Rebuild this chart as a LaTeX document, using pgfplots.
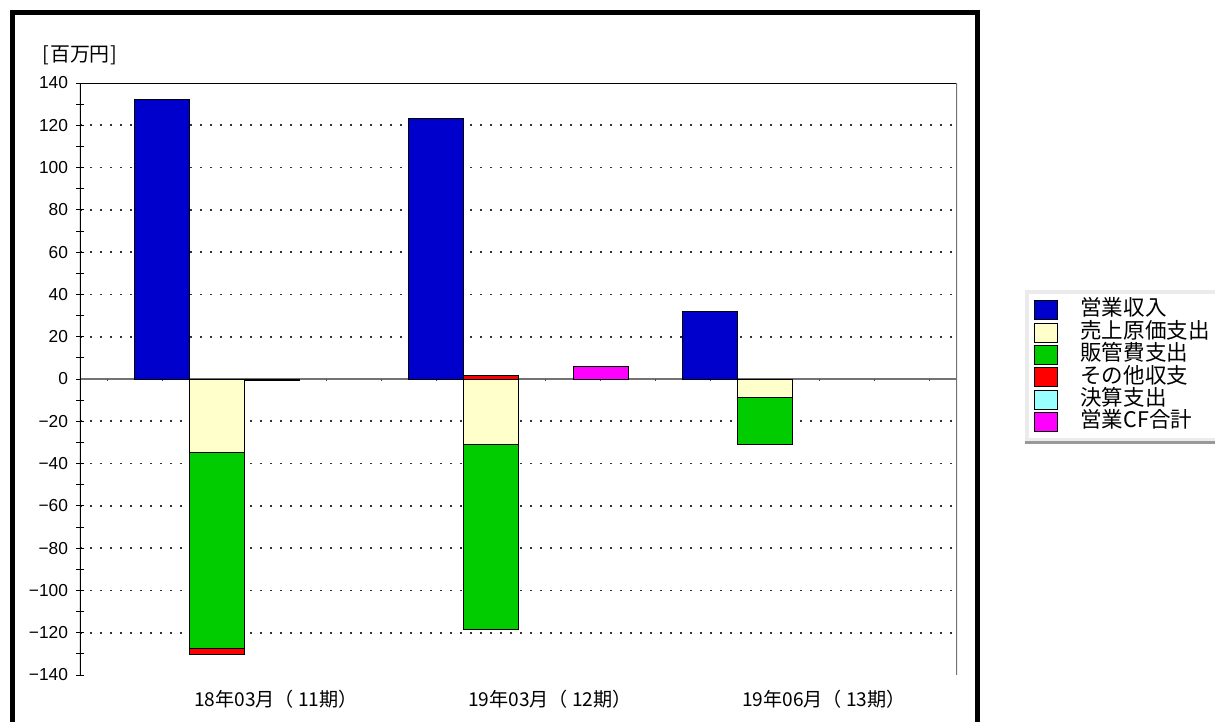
\documentclass[border=0pt]{standalone}
\usepackage{fontspec}
\setmainfont{Liberation Sans}
\newfontfamily\cjk{Noto Sans CJK JP}
\usepackage{pgfplots}
\pgfplotsset{compat=1.18}
\definecolor{cBlue}{HTML}{0000CC}
\definecolor{cYel}{HTML}{FFFFCC}
\definecolor{cGrn}{HTML}{00CC00}
\definecolor{cRed}{HTML}{FF0000}
\definecolor{cCyan}{HTML}{99FFFF}
\definecolor{cMag}{HTML}{FF00FF}
\pgfplotsset{mybar/.style={ybar, bar width=1, bar shift=0pt, draw=black, line width=0.5bp}}
\begin{document}
\begin{tikzpicture}
\useasboundingbox (0,0) rectangle (607.5bp,-361bp);
\draw[line width=2.5bp] (6bp,-400bp) -- (6bp,-6.25bp) -- (488.5bp,-6.25bp) -- (488.5bp,-400bp);
\begin{axis}[
  scale only axis, width=438.5bp, height=296bp,
  at={(40bp,-337.5bp)}, anchor=south west,
  xmin=0, xmax=16, ymin=-140, ymax=140,
  axis line style={draw=none},
  ytick={-120,-100,-80,-60,-40,-20,20,40,60,80,100,120},
  yticklabels={−120,−100,−80,−60,−40,−20,20,40,60,80,100,120},
  extra y ticks={-140,0,140},
  extra y tick labels={−140,0,140},
  extra y tick style={grid=none},
  minor ytick={-130,-110,-90,-70,-50,-30,-10,10,30,50,70,90,110,130},
  ytick pos=left, tick align=center,
  major tick length=4bp, minor tick length=3.5bp,
  tick style={black, line width=0.5bp},
  ymajorgrids,
  major grid style={black!80, line width=0.8bp, dash pattern=on 0.8bp off 4.2bp},
  yticklabel style={font=\fontsize{8.7}{10}\selectfont, xshift=-0.5bp},
  xtick={3.5,8.5,13.5},
  xticklabels={18年03月（ 11期）,19年03月（ 12期）,19年06月（ 13期）},
  xticklabel style={font=\cjk\fontsize{9.6}{10}\selectfont, yshift=-2bp, xshift=2bp},
  major x tick style={draw=none},
  ylabel={\cjk\fontsize{10}{11}\selectfont [\kern0.5bp 百万円\kern0.5bp]},
  ylabel style={rotate=-90, at={(rel axis cs:0,1)}, anchor=base, yshift=11bp},
  legend image code/.code={\draw[#1, line width=0.5bp] (0bp,-4.75bp) rectangle (11.5bp,4.75bp);},
  legend style={name=leg, at={(1.0775,0.6503)}, anchor=north west, draw=black!8, line width=2bp,
    font=\cjk\fontsize{10.8}{12}\selectfont, row sep=0pt, inner xsep=3.5bp, inner ysep=3.5bp,
    nodes={inner sep=0.25bp, text height=8.2bp, text depth=2.5bp},
    /tikz/column 1/.style={column sep=11bp}},
  legend cell align=left,
]
\addlegendimage{fill=cBlue, draw=black}
\addlegendentry{営業収入}
\addlegendimage{fill=cYel, draw=black}
\addlegendentry{売上原価支出}
\addlegendimage{fill=cGrn, draw=black}
\addlegendentry{販管費支出}
\addlegendimage{fill=cRed, draw=black}
\addlegendentry{その他収支}
\addlegendimage{fill=cCyan, draw=black}
\addlegendentry{決算支出}
\addlegendimage{fill=cMag, draw=black}
\addlegendentry{営業CF合計}

% zero line and small ticks on it
\draw[black!55, line width=0.6bp] (axis cs:0,0) -- (axis cs:16,0);
\pgfplotsinvokeforeach{0,...,15}{ \draw[black!70, line width=0.5bp] (axis cs:#1.5,0) -- (axis cs:#1.5,-1.1); }

% 営業収入
\addplot[mybar, fill=cBlue, forget plot] coordinates {(1.5,132) (6.5,123) (11.5,31.8)};
% stacked column (cumulative levels, deepest first)
\addplot[mybar, fill=cRed, forget plot] coordinates {(2.5,-130.1)};
\addplot[mybar, fill=cGrn, forget plot] coordinates {(2.5,-127.6) (7.5,-118.7) (12.5,-30.9)};
\addplot[mybar, fill=cYel, forget plot] coordinates {(2.5,-34.8) (7.5,-30.9) (12.5,-8.8)};
\addplot[mybar, fill=cRed, forget plot] coordinates {(7.5,1.8)};
% 決算支出
\addplot[mybar, fill=cCyan, forget plot] coordinates {(3.5,-0.7)};
% 営業CF合計
\addplot[mybar, fill=cMag, forget plot] coordinates {(9.5,5.8)};

% plot frame (no bottom line)
\draw[black, line width=0.6bp] (rel axis cs:0,0) -- (rel axis cs:0,1) -- (rel axis cs:1,1);
\draw[black!55, line width=0.7bp] (rel axis cs:1,1) -- (rel axis cs:1,0);
\end{axis}
\draw[black!40, line width=1.6bp] ([yshift=-0.2bp]leg.south west) -- ([yshift=-0.2bp]leg.south east);
\end{tikzpicture}
\end{document}
